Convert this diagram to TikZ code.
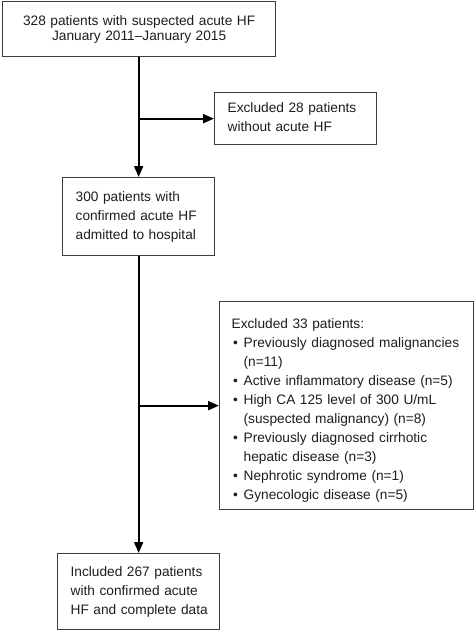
\documentclass[tikz,border=0pt]{standalone}
\usepackage{fontspec}
\setmainfont{Liberation Sans}
\usetikzlibrary{arrows.meta}
\definecolor{boxgray}{HTML}{3C3C3C}
\definecolor{txt}{HTML}{1E1E1E}
\newcommand{\boxlines}[1]{\begin{tabular}{@{}l@{}}#1\end{tabular}}
\newcommand{\bitem}{\makebox[12pt][l]{\hspace{1.5pt}\textbullet}}
\newcommand{\bcont}{\hspace{12pt}}
\begin{document}
\begin{tikzpicture}[x=1pt,y=-1pt,
  box/.style={draw=boxgray, line width=1.3pt, anchor=north west, align=left,
    inner ysep=0pt, text=txt, font=\fontsize{13.7}{19}\selectfont},
  flow/.style={line width=2pt, black},
  arr/.style={flow, -{Triangle[length=11pt,width=9pt]}}]
\useasboundingbox (0,0) rectangle (474,632);
\fill[white] (0,0) rectangle (474,632);

\node[box, align=center, text width=263pt, inner xsep=5pt, minimum height=55pt,
  font=\fontsize{13.7}{15}\selectfont] (top) at (2,1)
  {328 patients with suspected acute HF\\January 2011--January 2015};

\node[box, text width=136pt, inner xsep=13pt, minimum height=52pt] (ex1) at (214,92)
  {\boxlines{Excluded 28 patients\\without acute HF}};

\node[box, text width=126pt, inner xsep=13pt, minimum height=78pt] (mid) at (62,177)
  {\boxlines{300 patients with\\confirmed acute HF\\admitted to hospital}};

\node[box, text width=230pt, inner xsep=12pt, minimum height=208pt] (ex2) at (219,301)
  {\boxlines{\rule{0pt}{22pt}Excluded 33 patients:\\
  \bitem Previously diagnosed malignancies\\
  \bcont (n=11)\\
  \bitem Active inflammatory disease (n=5)\\
  \bitem High CA 125 level of 300 U/mL\\
  \bcont (suspected malignancy) (n=8)\\
  \bitem Previously diagnosed cirrhotic\\
  \bcont hepatic disease (n=3)\\
  \bitem Nephrotic syndrome (n=1)\\
  \bitem Gynecologic disease (n=5)}};

\node[box, text width=136pt, inner xsep=13pt, minimum height=76pt] (inc) at (57,553)
  {\boxlines{Included 267 patients\\with confirmed acute\\HF and complete data}};

\coordinate (s1) at (mid.north |- top.south);
\coordinate (b1) at (mid.north |- ex1.west);
\coordinate (b2) at (mid.south |- ex2.west);

\draw[arr] (s1) -- (mid.north);
\draw[arr] (b1) -- (ex1.west);
\draw[arr] (mid.south) -- (inc.north);
\draw[arr] (b2) -- (ex2.west);
\end{tikzpicture}
\end{document}
